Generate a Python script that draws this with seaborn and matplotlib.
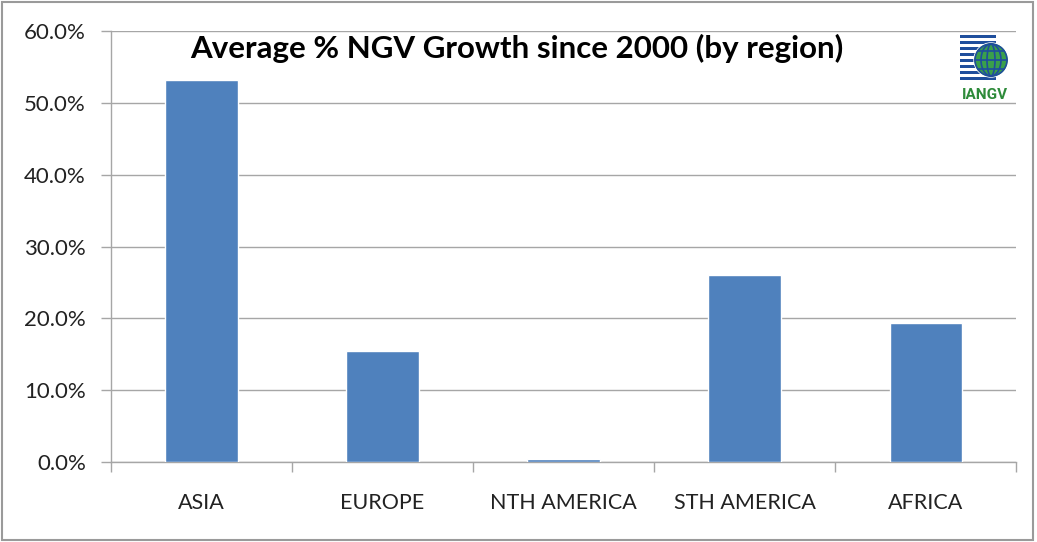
import numpy as np
import pandas as pd
import seaborn as sns
import matplotlib.pyplot as plt
from matplotlib.patches import Rectangle, Circle, Ellipse
from matplotlib.ticker import PercentFormatter, FixedLocator

# Data
regions = ["ASIA", "EUROPE", "NTH AMERICA", "STH AMERICA", "AFRICA"]
growth = [53.2, 15.5, 0.4, 26.0, 19.4]
y_ticks = [0, 10, 20, 30, 40, 50, 60]

df = pd.DataFrame({"region": regions, "growth": growth})

sns.set_theme(style="white")
plt.rcParams["font.family"] = ["Lato", "DejaVu Sans"]

fig = plt.figure(figsize=(10.37, 5.42), dpi=100)
ax = fig.add_axes([0.107, 0.1476, 0.873, 0.7952])

sns.barplot(data=df, x="region", y="growth", color="#4F81BD", width=0.4,
            saturation=1, ax=ax, zorder=3)

grid_col = "#a6a6a6"
ax.set_ylim(0, 60)
ax.set_xlim(-0.5, len(regions) - 0.5)
ax.yaxis.set_major_locator(FixedLocator(y_ticks))
ax.yaxis.set_major_formatter(PercentFormatter(decimals=1))
ax.grid(axis="y", color=grid_col, linewidth=1, zorder=0)
ax.set_axisbelow(True)

for side in ["top", "right"]:
    ax.spines[side].set_visible(False)
for side in ["left", "bottom"]:
    ax.spines[side].set_color(grid_col)
    ax.spines[side].set_linewidth(1)

ax.tick_params(axis="y", which="major", length=7, width=1, color=grid_col,
               direction="out", labelsize=16, labelcolor="#222222", pad=11, left=True)
ax.tick_params(axis="x", which="major", length=0, labelsize=15.5,
               labelcolor="#222222", pad=22)
ax.xaxis.set_minor_locator(FixedLocator(np.arange(-0.5, len(regions), 1)))
ax.tick_params(axis="x", which="minor", length=7, width=1, color=grid_col,
               direction="out", bottom=True)

ax.set_xlabel("")
ax.set_ylabel("")
ax.text(0.088, 0.96, "Average % NGV Growth since 2000 (by region)",
        transform=ax.transAxes, fontsize=22.5, fontweight="bold",
        ha="left", va="center", color="black")

# small logo in the top right corner (pixel-like coordinates inside its own axes)
logo = fig.add_axes([958 / 1037, 1 - 104 / 542, 52 / 1037, 74 / 542])
logo.set_xlim(0, 52)
logo.set_ylim(0, 74)
logo.axis("off")
for i in range(8):
    logo.add_patch(Rectangle((2, 24 + i * 6), 36, 3.2, color="#1f4e9c", lw=0))
logo.add_patch(Circle((33, 44), 17, color="white", zorder=2))
logo.add_patch(Circle((33, 44), 16, color="#3aa04a", zorder=3))
for w in [32, 20, 8]:
    logo.add_patch(Ellipse((33, 44), w, 32, fill=False, ec="#1f4e9c", lw=1.2, zorder=4))
for dy in [-9, 0, 9]:
    half = np.sqrt(16 ** 2 - dy ** 2)
    logo.plot([33 - half, 33 + half], [44 + dy, 44 + dy], color="#1f4e9c", lw=1.2, zorder=4)
logo.text(27, 9, "IANGV", ha="center", va="center", fontsize=11,
          fontweight="bold", color="#2e8b3a", family="Roboto")

# outer grey frame
fig.patches.append(Rectangle((0.002, 0.004), 0.994, 0.992, transform=fig.transFigure,
                             fill=False, ec="#9a9a9a", lw=1.5))

fig.savefig("out.png", dpi=100)
